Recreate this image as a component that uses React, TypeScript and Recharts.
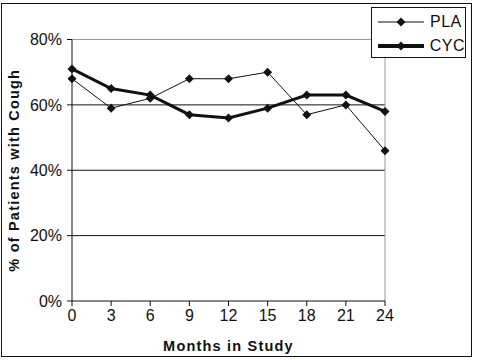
import {
  CartesianGrid,
  Label,
  Line,
  LineChart,
  ReferenceLine,
  XAxis,
  YAxis,
} from "recharts";

const months = [0, 3, 6, 9, 12, 15, 18, 21, 24];
const plaValues = [68, 59, 62, 68, 68, 70, 57, 60, 46];
const cycValues = [71, 65, 63, 57, 56, 59, 63, 63, 58];
const yTicks = [0, 20, 40, 60, 80];
const gridValues = [20, 40, 60];

const INK = "#111";
const FRAME_GRAY = "#999";
const FONT = "'Liberation Sans', Arial, sans-serif";

const chartData = months.map((month, i) => ({
  month,
  PLA: plaValues[i],
  CYC: cycValues[i],
}));

function Diamond(props: any) {
  const { cx, cy, index } = props;
  if (cx == null || cy == null) return <g key={`d-${index}`} />;
  const r = 4.5;
  return (
    <polygon
      key={`d-${index}`}
      points={`${cx},${cy - r} ${cx + r},${cy} ${cx},${cy + r} ${cx - r},${cy}`}
      fill={INK}
    />
  );
}

function LegendRow({ label, width }: { label: string; width: number }) {
  return (
    <div style={{ display: "flex", alignItems: "center", height: 24 }}>
      <svg width={50} height={12} style={{ display: "block" }}>
        <line x1={2} x2={48} y1={6} y2={6} stroke={INK} strokeWidth={width} />
        <polygon points="25,1.5 29.5,6 25,10.5 20.5,6" fill={INK} />
      </svg>
      <span style={{ marginLeft: 4, fontSize: 16, letterSpacing: 0.5 }}>{label}</span>
    </div>
  );
}

export default function App() {
  const tickStyle = { fill: INK, fontSize: 16, fontFamily: FONT };
  return (
    <div style={{ position: "relative", width: 477, height: 360, fontFamily: FONT, color: INK }}>
      <style>{`body{margin:0}`}</style>
      <LineChart
        width={477}
        height={360}
        data={chartData}
        margin={{ top: 39.5, right: 92, left: 0, bottom: 0 }}
      >
        <CartesianGrid vertical={false} horizontalValues={gridValues} stroke={INK} />
        <ReferenceLine y={80} stroke={FRAME_GRAY} />
        <ReferenceLine x={24} stroke={FRAME_GRAY} />
        <XAxis
          dataKey="month"
          type="number"
          domain={[0, 24]}
          ticks={months}
          height={59}
          stroke={INK}
          tickSize={5}
          tickMargin={4}
          tick={tickStyle}
        >
          <Label
            value="Months in Study"
            position="insideBottom"
            offset={9}
            style={{ fontWeight: "bold", fontSize: 14.5, letterSpacing: 1.2, fill: INK, fontFamily: FONT }}
          />
        </XAxis>
        <YAxis
          type="number"
          domain={[0, 80]}
          ticks={yTicks}
          width={72}
          stroke={INK}
          tickSize={5}
          tickMargin={5}
          tick={tickStyle}
          tickFormatter={(v: number) => `${v}%`}
        >
          <Label
            content={({ viewBox }: any) => {
              const cx = viewBox.x + 14;
              const cy = viewBox.y + viewBox.height / 2;
              return (
                <text
                  x={cx}
                  y={cy}
                  transform={`rotate(-90 ${cx} ${cy})`}
                  textAnchor="middle"
                  dominantBaseline="central"
                  fill={INK}
                  fontFamily={FONT}
                  fontWeight="bold"
                  fontSize={14.5}
                  letterSpacing={1.2}
                >
                  % of Patients with Cough
                </text>
              );
            }}
          />
        </YAxis>
        <Line
          dataKey="PLA"
          stroke={INK}
          strokeWidth={1}
          dot={Diamond}
          activeDot={false}
          isAnimationActive={false}
        />
        <Line
          dataKey="CYC"
          stroke={INK}
          strokeWidth={3}
          dot={Diamond}
          activeDot={false}
          isAnimationActive={false}
        />
      </LineChart>
      <div
        style={{
          position: "absolute",
          left: 371,
          top: 7,
          width: 95,
          height: 51,
          boxSizing: "border-box",
          border: `1px solid ${INK}`,
          background: "#fff",
          padding: "2px 0 0 4px",
        }}
      >
        <LegendRow label="PLA" width={1} />
        <LegendRow label="CYC" width={4} />
      </div>
      <div
        style={{
          position: "absolute",
          left: 1,
          top: 3,
          width: 471,
          height: 354,
          boxSizing: "border-box",
          border: `1px solid ${INK}`,
          pointerEvents: "none",
        }}
      />
    </div>
  );
}
